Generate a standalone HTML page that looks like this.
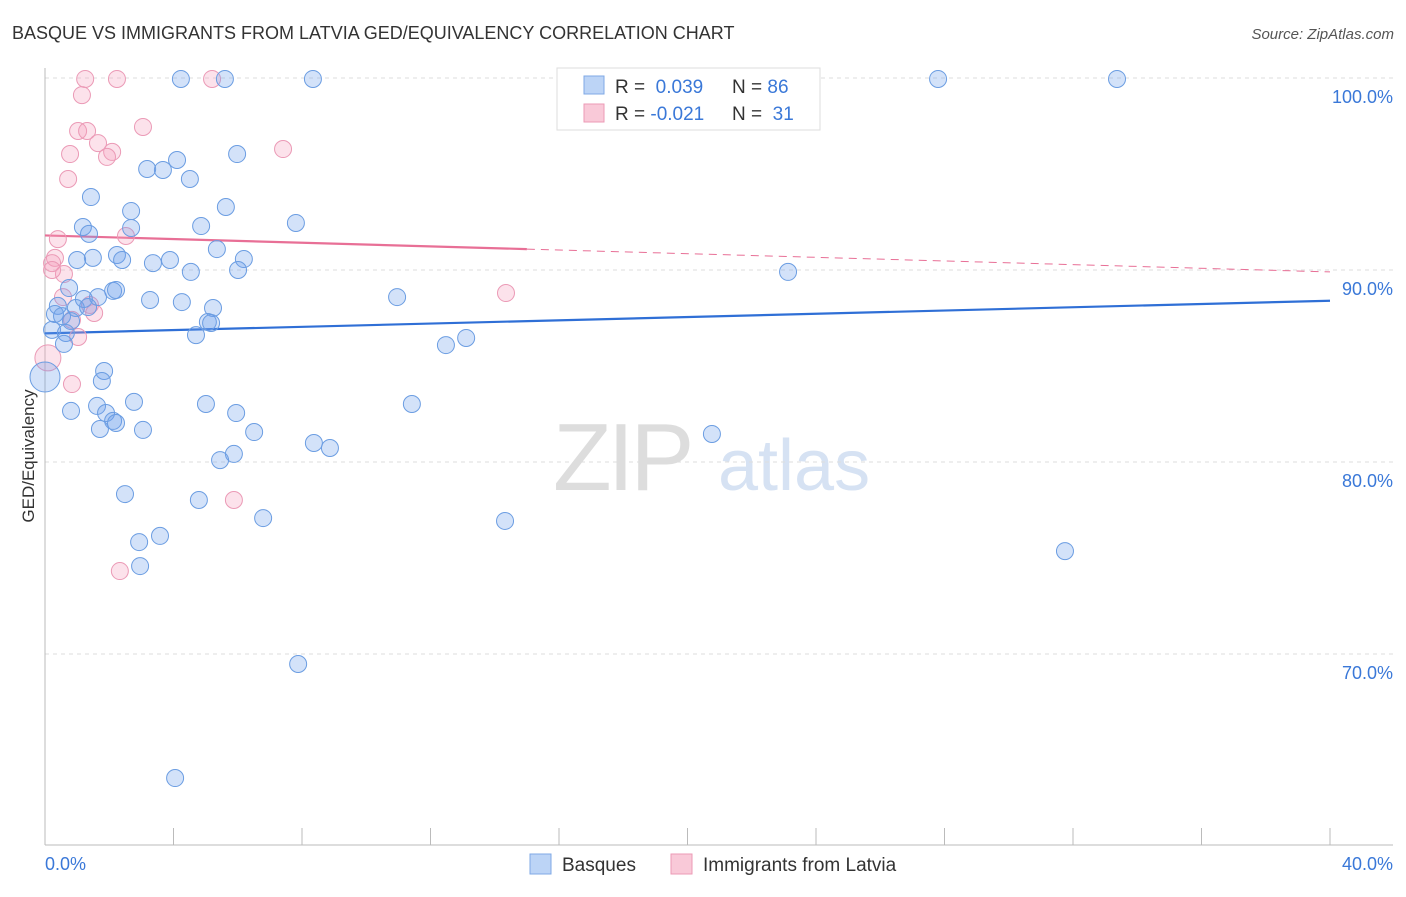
<!DOCTYPE html>
<html><head><meta charset="utf-8"><style>
body{margin:0;background:#fff;font-family:"Liberation Sans",sans-serif;}
svg text{font-family:"Liberation Sans",sans-serif;}
</style></head><body>
<svg width="1406" height="892" viewBox="0 0 1406 892">
<text x="12" y="39" font-size="18" fill="#333">BASQUE VS IMMIGRANTS FROM LATVIA GED/EQUIVALENCY CORRELATION CHART</text>
<text x="1394" y="39" font-size="15" fill="#555" text-anchor="end" font-style="italic">Source: ZipAtlas.com</text>
<g>
<text x="553" y="490" font-size="96" fill="#ddd" font-family="Liberation Serif" letter-spacing="-4">ZIP</text>
<text x="718" y="490" font-size="72" fill="#d6e2f3">atlas</text>
</g>
<g id="grid"></g>
<g id="axes"></g>
<g id="trends"></g>
<g id="pts"></g>
<text transform="translate(34,456) rotate(-90)" font-size="17" fill="#333" text-anchor="middle">GED/Equivalency</text>
<g>
<rect x="557" y="68" width="263" height="62" fill="#fff" stroke="#ddd"/>
<rect x="584" y="76" width="20" height="18" fill="#bcd4f6" stroke="#7fa8e6"/>
<rect x="584" y="104" width="20" height="18" fill="#f9c9d8" stroke="#ec9ab6"/>
<text x="615" y="93" font-size="19" fill="#333">R = <tspan fill="#3a78d8">&#160;0.039</tspan><tspan x="732">N = </tspan><tspan fill="#3a78d8">86</tspan></text>
<text x="615" y="120" font-size="19" fill="#333">R = <tspan fill="#3a78d8">-0.021</tspan><tspan x="732">N = </tspan><tspan fill="#3a78d8">&#160;31</tspan></text>
</g>
<g>
<rect x="530" y="854" width="21" height="20" fill="#bcd4f6" stroke="#7fa8e6"/>
<text x="562" y="871" font-size="19" fill="#333">Basques</text>
<rect x="671" y="854" width="21" height="20" fill="#f9c9d8" stroke="#ec9ab6"/>
<text x="703" y="871" font-size="19" fill="#333">Immigrants from Latvia</text>
</g>
</svg>
<script>
const yTicks=[100,90,80,70];
const xLabels=["0.0%","40.0%"];
const blueX=[4.23,5.60,8.34,27.8,33.37,5.98,4.11,3.18,3.67,4.51,1.43,5.63,2.68,7.81,4.86,1.18,2.68,1.37,5.35,2.24,1.00,1.49,2.40,3.36,3.89,6.19,4.54,6.01,23.13,0.75,2.12,2.21,1.65,1.21,0.40,0.96,1.34,3.27,4.26,5.23,10.96,0.31,0.53,0.81,5.07,5.17,0.22,0.65,4.70,0.59,12.48,13.11,0,1.84,1.77,0.81,1.62,1.90,2.77,2.12,2.21,1.71,3.05,5.01,5.95,6.51,11.42,20.76,8.37,8.87,5.88,5.45,2.49,4.79,6.79,14.32,3.58,2.93,2.96,31.75,7.88,4.05];
const blueY=[99.95,99.95,99.95,99.95,99.95,96.04,95.73,95.26,95.21,94.74,93.80,93.28,93.07,92.45,92.29,92.24,92.19,91.88,91.09,90.78,90.52,90.63,90.52,90.36,90.52,90.57,89.90,90.00,89.90,89.06,88.91,88.96,88.59,88.49,88.13,88.02,88.07,88.44,88.33,88.02,88.59,87.71,87.60,87.34,87.29,87.24,86.88,86.72,86.61,86.15,86.09,86.46,84.43,84.74,84.22,82.66,82.92,82.55,83.13,82.14,82.03,81.72,81.67,83.02,82.55,81.56,83.02,81.46,80.99,80.73,80.42,80.10,78.33,78.02,77.08,76.93,76.15,75.83,74.58,75.36,69.48,63.54];
const pinkX=[1.25,2.24,5.20,1.15,1.03,1.31,3.05,1.65,2.09,1.93,0.78,7.41,0.72,2.52,0.40,0.31,0.22,0.59,0.22,14.35,0.56,1.40,1.53,0.84,1.03,0.09,0.84,5.88,2.33];
const pinkY=[99.95,99.95,99.95,99.11,97.24,97.24,97.45,96.61,96.15,95.89,96.04,96.30,94.74,91.77,91.61,90.63,90.36,89.79,90.00,88.80,88.59,88.18,87.76,87.40,86.51,85.42,84.06,78.02,74.32];
const blueTrend=[86.7,88.4];
const pinkTrend=[91.8,89.9];
const NS="http://www.w3.org/2000/svg";
const X0=45,X1=1330,Y100=78,PX10=19.2;
function sx(v){return X0+(X1-X0)*v/40;}
function sy(v){return Y100+(100-v)*PX10;}
function mk(t,a,p){const e=document.createElementNS(NS,t);for(const k in a)e.setAttribute(k,a[k]);document.getElementById(p).appendChild(e);return e;}
yTicks.forEach(t=>{
 const l=mk('line',{x1:X0,x2:1393,y1:sy(t),y2:sy(t),stroke:'#ddd','stroke-dasharray':'4,4'},'grid');
 
 
 const tx=mk('text',{x:1393,y:sy(t)+25,'font-size':18,fill:'#3a78d8','text-anchor':'end'},'grid');
 tx.textContent=t.toFixed(1)+'%';
 
 
});
const ax=mk('line',{x1:X0,x2:X0,y1:68,y2:845,stroke:'#bbb'},'axes');


const bx=mk('line',{x1:X0,x2:1393,y1:845,y2:845,stroke:'#bbb'},'axes');


for(let i=0;i<=10;i++){const t=mk('line',{x1:sx(i*4),x2:sx(i*4),y1:828,y2:845,stroke:'#bbb'},'axes');
 
 }
[[0,'start',45],[1,'end',1393]].forEach(([i,a,x])=>{const t=mk('text',{x:x,y:870,'font-size':18,fill:'#3a78d8','text-anchor':a},'axes');t.textContent=xLabels[i];
 
 });
function pt(x,y,r,fill,stroke,name){const c=mk('circle',{cx:sx(x),cy:sy(y),r:r,fill:fill,stroke:stroke,'stroke-width':1},'pts');
 
 }
pinkX.forEach((x,i)=>pt(x,pinkY[i],x===0.09?13:8.5,'rgba(244,160,190,0.3)','#eb9ab6','latvia-point'));
blueX.forEach((x,i)=>pt(x,blueY[i],x===0?15:8.5,'rgba(110,160,235,0.3)','#6b9de2','basque-point'));
const bt=mk('line',{x1:sx(0),y1:sy(blueTrend[0]),x2:sx(40),y2:sy(blueTrend[1]),stroke:'#2f6fd6','stroke-width':2.2},'trends');


const pAt=v=>pinkTrend[0]+(pinkTrend[1]-pinkTrend[0])*v/40;
const p1=mk('line',{x1:sx(0),y1:sy(pAt(0)),x2:sx(15),y2:sy(pAt(15)),stroke:'#e86f96','stroke-width':2.2},'trends');


const p2=mk('line',{x1:sx(15),y1:sy(pAt(15)),x2:sx(40),y2:sy(pAt(40)),stroke:'#e86f96','stroke-width':1,'stroke-dasharray':'8,6'},'trends');


</script>
</body></html>
